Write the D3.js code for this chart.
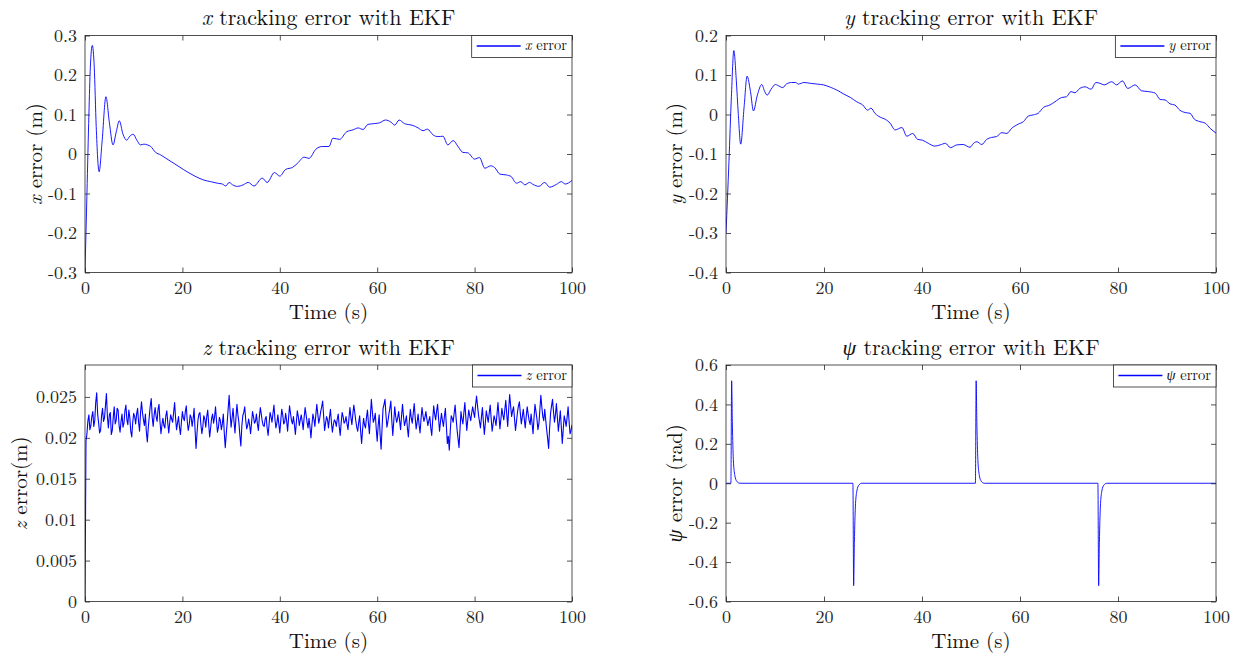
<!DOCTYPE html>
<html>
<head>
<meta charset="utf-8">
<script src="https://cdn.jsdelivr.net/npm/d3@7"></script>
<style>
  body { margin: 0; background: #fff; }
  svg { display: block; }
  svg text { font-family: 'Latin Modern Roman', 'Liberation Serif', serif; }
</style>
</head>
<body>
<svg id="chart" width="1240" height="655"></svg>
<script>
// ---- data ----
const xTicks = [0, 20, 40, 60, 80, 100];

const xErrTicks = [-0.3, -0.2, -0.1, 0, 0.1, 0.2, 0.3];
const xErrTime = [0, 0.4, 0.8, 1.1, 1.5, 1.9, 2.3, 2.9, 3.5, 4.3, 5.0, 5.75, 6.4, 7.05, 7.8, 8.55, 9.2, 9.9,
  10.6, 11.4, 12.1, 12.8, 13.5, 14.5, 15.5, 16.5, 18.3, 20.3, 22.4, 24.4, 25.8, 27.2, 28.2, 28.9, 29.6,
  30.3, 31.3, 32.5, 33.5, 34.7, 36.4, 37.4, 38.9, 40.0, 41.2, 42.6, 43.6, 45.0, 46.0, 47.4, 48.7, 50.1,
  50.9, 52.3, 53.7, 55.0, 56.1, 57.1, 58.1, 59.5, 60.5, 61.7, 62.8, 63.6, 64.5, 65.6, 67.4, 68.4, 69.4,
  70.3, 71.5, 72.5, 73.5, 74.5, 75.6, 76.6, 77.6, 78.6, 80.0, 81.0, 82.1, 83.3, 84.1, 85.2, 86.5, 87.5,
  88.6, 89.5, 90.3, 91.3, 92.0, 93.2, 94.4, 95.4, 96.8, 97.8, 98.6, 100];
const xErr = [-0.3, -0.1, 0.1, 0.22, 0.275, 0.22, 0.07, -0.045, 0.03, 0.145, 0.08, 0.023, 0.055, 0.084, 0.05, 0.035, 0.045, 0.05,
  0.036, 0.023, 0.025, 0.023, 0.019, 0.004, -0.002, -0.01, -0.024, -0.04, -0.055, -0.066, -0.07, -0.074, -0.076, -0.081, -0.072,
  -0.078, -0.082, -0.078, -0.072, -0.081, -0.061, -0.072, -0.047, -0.056, -0.039, -0.034, -0.024, -0.008, -0.011, 0.012, 0.019, 0.019,
  0.04, 0.037, 0.056, 0.061, 0.066, 0.062, 0.075, 0.077, 0.079, 0.086, 0.081, 0.073, 0.086, 0.077, 0.072, 0.066, 0.059,
  0.063, 0.048, 0.044, 0.045, 0.023, 0.034, 0.019, 0.004, 0.003, -0.013, -0.009, -0.036, -0.03, -0.034, -0.051, -0.053, -0.057,
  -0.074, -0.07, -0.078, -0.072, -0.077, -0.082, -0.072, -0.084, -0.077, -0.07, -0.076, -0.067];

const yErrTicks = [-0.4, -0.3, -0.2, -0.1, 0, 0.1, 0.2];
const yErrTime = [0, 0.6, 1.1, 1.6, 2.1, 2.5, 3.0, 3.7, 4.3, 5.0, 5.6, 6.4, 7.3, 7.9, 8.4, 9.2, 10.1, 10.8,
  11.6, 12.3, 13.4, 14.2, 14.8, 15.9, 17.2, 18.6, 19.9, 21.3, 22.6, 24.0, 25.4, 26.7, 27.9, 28.9, 29.6,
  30.4, 31.5, 32.5, 33.5, 34.5, 35.9, 36.9, 38.1, 39.1, 40.1, 41.3, 42.6, 43.7, 44.8, 45.8, 47.1, 48.4,
  49.8, 50.5, 51.2, 52.2, 53.2, 54.2, 55.2, 56.3, 57.3, 58.3, 59.7, 60.7, 61.7, 62.7, 63.7, 64.8, 66.1,
  67.1, 68.5, 69.5, 70.4, 71.2, 72.2, 73.3, 74.5, 75.5, 76.3, 77.2, 78.7, 79.7, 80.9, 82.0, 83.5, 84.8,
  86.2, 87.6, 88.6, 89.6, 90.6, 91.6, 92.6, 93.7, 94.7, 95.6, 96.7, 97.8, 98.8, 100];
const yErr = [-0.3, -0.12, 0.045, 0.162, 0.087, 0.003, -0.075, 0.02, 0.097, 0.058, 0.009, 0.049, 0.076, 0.058, 0.049, 0.064, 0.076, 0.072,
  0.068, 0.077, 0.081, 0.081, 0.077, 0.081, 0.079, 0.077, 0.075, 0.069, 0.062, 0.052, 0.043, 0.032, 0.024, 0.011, 0.016,
  0.003, -0.007, -0.012, -0.022, -0.039, -0.033, -0.055, -0.048, -0.063, -0.065, -0.073, -0.08, -0.077, -0.073, -0.084, -0.077, -0.076,
  -0.083, -0.073, -0.069, -0.076, -0.063, -0.058, -0.056, -0.046, -0.048, -0.035, -0.024, -0.018, -0.004, -0.001, 0.003, 0.018, 0.024,
  0.032, 0.043, 0.045, 0.058, 0.055, 0.066, 0.07, 0.064, 0.081, 0.079, 0.075, 0.083, 0.075, 0.085, 0.066, 0.075, 0.06,
  0.058, 0.054, 0.038, 0.037, 0.027, 0.024, 0.011, 0.005, 0.003, -0.012, -0.018, -0.022, -0.035, -0.047];

const zErrTicks = [0, 0.005, 0.01, 0.015, 0.02, 0.025];
const zStep = 0.2; // sample spacing (s)
// z error in millimetres, one value every zStep seconds from t = 0
const zErrMm = [0,
  19.6, 20.5, 22.1, 22.8, 21.0, 21.5, 22.6, 23.2, 21.4, 22.1, 24.3, 25.5, 22.9, 21.8, 20.6, 20.9, 22.7, 23.6, 22.0, 22.4, 23.9, 25.4, 22.6, 21.2, 22.8,
  23.1, 20.4, 20.9, 22.5, 23.8, 21.7, 22.1, 23.6, 23.4, 21.5, 20.7, 22.0, 22.9, 21.3, 21.8, 23.3, 24.0, 22.2, 21.6, 23.4, 22.5, 20.8, 20.1, 21.9, 23.0,
  22.6, 21.7, 22.9, 23.6, 21.9, 20.8, 23.0, 24.4, 23.1, 22.2, 21.5, 22.9, 20.7, 19.5, 21.3, 22.6, 23.9, 24.8, 22.5, 21.4, 22.8, 23.7, 22.6, 22.0, 23.5,
  24.1, 22.0, 20.5, 21.6, 22.4, 21.5, 21.2, 22.7, 23.3, 21.8, 20.6, 21.9, 22.8, 22.3, 21.9, 23.1, 24.3, 22.4, 21.0, 21.8, 22.6, 21.3, 20.4, 21.9, 23.2,
  22.4, 22.1, 23.2, 23.9, 22.0, 20.9, 21.6, 22.8, 22.5, 21.4, 22.3, 23.6, 21.0, 18.7, 20.6, 22.2, 22.9, 23.1, 21.6, 20.5, 21.4, 22.7, 22.3, 21.3, 22.6,
  23.4, 21.7, 20.1, 21.2, 22.4, 22.9, 21.8, 22.5, 23.8, 22.1, 20.7, 21.3, 22.5, 22.1, 21.0, 21.7, 22.9, 20.6, 18.8, 20.4, 21.9, 23.6, 25.2, 23.0, 21.3,
  22.4, 23.6, 22.0, 20.6, 22.5, 24.1, 22.8, 21.9, 20.3, 19.0, 21.4, 22.7, 23.1, 23.8, 22.2, 21.1, 21.5, 22.3, 21.6, 20.5, 21.8, 23.2, 22.6, 21.8, 22.0,
  22.9, 21.7, 20.9, 22.5, 23.7, 22.9, 22.0, 21.5, 21.4, 22.3, 22.6, 21.2, 20.3, 21.7, 23.1, 22.6, 21.9, 23.0, 24.0, 22.3, 21.2, 21.8, 22.8, 21.7, 20.6,
  22.1, 23.5, 22.8, 21.7, 21.9, 23.0, 22.1, 20.8, 22.4, 23.9, 23.0, 22.1, 21.7, 22.6, 21.6, 20.4, 21.9, 23.3, 22.6, 21.5, 22.2, 22.8, 22.0, 21.0, 22.5,
  23.7, 22.8, 21.9, 21.2, 22.4, 21.3, 20.0, 21.6, 22.9, 22.3, 21.4, 22.8, 24.1, 22.9, 21.8, 22.4, 23.2, 23.8, 24.5, 22.7, 20.9, 21.8, 22.6, 22.2, 21.2,
  22.5, 23.5, 21.9, 20.7, 21.6, 22.2, 22.0, 21.4, 22.3, 22.9, 21.4, 20.3, 21.8, 23.1, 22.6, 21.8, 22.0, 22.6, 21.7, 21.0, 22.4, 23.7, 22.5, 21.6, 22.9,
  24.0, 23.1, 22.1, 21.3, 20.8, 21.9, 22.7, 20.8, 19.3, 21.0, 22.4, 21.6, 21.2, 22.5, 23.4, 21.8, 20.5, 22.6, 24.7, 23.2, 21.9, 22.3, 23.0, 21.1, 19.6,
  21.5, 22.8, 20.4, 18.6, 21.2, 23.6, 24.1, 24.7, 22.8, 21.3, 22.0, 22.9, 23.6, 24.5, 22.1, 20.3, 22.0, 23.8, 22.6, 21.9, 22.4, 23.2, 22.1, 21.0, 22.7,
  24.1, 22.6, 21.5, 22.0, 22.7, 21.2, 20.1, 22.0, 23.5, 22.4, 21.8, 23.0, 24.2, 22.5, 21.1, 21.9, 22.9, 21.6, 20.6, 22.3, 23.7, 22.7, 22.0, 22.5, 23.2,
  22.3, 21.5, 22.1, 22.6, 21.2, 20.3, 22.2, 23.9, 22.9, 22.2, 23.3, 24.1, 22.4, 20.8, 22.0, 23.0, 22.1, 21.4, 22.6, 23.6, 21.5, 19.3, 20.2, 18.5, 20.8,
  22.7, 22.4, 21.9, 23.0, 24.0, 22.4, 21.0, 19.9, 18.8, 21.0, 23.2, 22.3, 21.7, 23.1, 24.3, 22.5, 20.9, 22.2, 23.4, 22.7, 22.1, 23.0, 23.8, 23.1, 22.5,
  24.0, 25.1, 23.9, 22.8, 22.0, 21.2, 22.5, 23.7, 22.0, 20.4, 21.8, 23.3, 22.6, 21.9, 23.0, 24.0, 22.4, 20.8, 21.7, 22.7, 22.2, 21.5, 22.9, 24.3, 22.7,
  21.1, 22.3, 23.6, 22.8, 22.2, 23.4, 24.6, 22.9, 21.4, 23.5, 25.3, 23.9, 22.6, 23.3, 23.8, 22.3, 20.9, 22.0, 23.1, 23.9, 24.4, 22.9, 21.7, 22.6, 23.5,
  22.3, 21.2, 22.6, 23.8, 22.9, 22.1, 21.6, 22.9, 21.8, 20.5, 22.4, 24.1, 23.2, 22.3, 21.0, 21.7, 23.4, 25.2, 23.8, 22.6, 22.1, 23.5, 22.2, 21.0, 19.9,
  18.7, 21.1, 23.0, 23.9, 24.7, 23.2, 21.9, 22.8, 24.2, 22.5, 20.8, 22.0, 23.3, 21.4, 19.3, 21.0, 22.7, 22.1, 21.4, 22.5, 23.8, 22.0, 20.5, 20.9, 21.6];

const psiTicks = [-0.6, -0.4, -0.2, 0, 0.2, 0.4, 0.6];
const psiTime = [0, 1.0, 1.15, 1.3, 1.5, 1.8, 2.2, 2.8,
  25.9, 26.05, 26.2, 26.4, 26.7, 27.1, 27.7,
  50.9, 51.05, 51.2, 51.4, 51.7, 52.1, 52.7,
  75.9, 76.05, 76.2, 76.4, 76.7, 77.1, 77.7, 100];
const psiErr = [0, 0, 0.52, 0.3, 0.12, 0.04, 0.01, 0,
  0, -0.52, -0.3, -0.12, -0.04, -0.01, 0,
  0, 0.52, 0.3, 0.12, 0.04, 0.01, 0,
  0, -0.52, -0.3, -0.12, -0.04, -0.01, 0, 0];

// ---- layout ----
const axisColor = '#262626';
const lineColor = '#0000ff';
const serif = "'Latin Modern Roman', 'Liberation Serif', serif";
const cols = [{ left: 85, right: 572 }, { left: 726, right: 1216 }];
const rows = [{ top: 35.5, bottom: 272.5 }, { top: 365, bottom: 601.5 }];

const panels = [
  { col: 0, row: 0, sym: 'x', domain: [-0.3, 0.3], ticks: xErrTicks, unit: ' (m)', labelX: 35, lw: 0.9,
    pts: xErrTime.map((t, i) => [t, xErr[i]]), curve: d3.curveMonotoneX },
  { col: 1, row: 0, sym: 'y', domain: [-0.4, 0.2], ticks: yErrTicks, unit: ' (m)', labelX: 675, lw: 0.9,
    pts: yErrTime.map((t, i) => [t, yErr[i]]), curve: d3.curveMonotoneX },
  { col: 0, row: 1, sym: 'z', domain: [0, 0.0289], ticks: zErrTicks, unit: '(m)', labelX: 20, lw: 1.1,
    pts: zErrMm.map((v, i) => [i * zStep, v / 1000]), curve: d3.curveLinear },
  { col: 1, row: 1, sym: 'ψ', domain: [-0.6, 0.6], ticks: psiTicks, unit: ' (rad)', labelX: 675, lw: 0.9,
    pts: psiTime.map((t, i) => [t, psiErr[i]]), curve: d3.curveMonotoneX },
];

const svg = d3.select('#chart');
const fmt = (d) => String(Math.round(d * 10000) / 10000);

panels.forEach((p) => {
  const c = cols[p.col], r = rows[p.row];
  const x = d3.scaleLinear().domain([0, 100]).range([c.left, c.right]);
  const y = d3.scaleLinear().domain(p.domain).range([r.bottom, r.top]);
  const g = svg.append('g');

  // clip for the data line
  const clipId = 'clip' + p.col + p.row;
  svg.append('clipPath').attr('id', clipId)
    .append('rect')
    .attr('x', c.left).attr('y', r.top)
    .attr('width', c.right - c.left).attr('height', r.bottom - r.top);

  // data line
  g.append('path')
    .datum(p.pts)
    .attr('clip-path', `url(#${clipId})`)
    .attr('fill', 'none')
    .attr('stroke', lineColor)
    .attr('stroke-width', p.lw)
    .attr('stroke-linejoin', 'round')
    .attr('d', d3.line().x((d) => x(d[0])).y((d) => y(d[1])).curve(p.curve));

  // axes (MATLAB style: inward ticks on all four sides)
  const styleAxis = (sel) => {
    sel.attr('font-family', serif).attr('font-size', 18);
    sel.select('.domain').remove();
    sel.selectAll('line').attr('stroke', axisColor).attr('stroke-width', 0.8);
    sel.selectAll('text').attr('fill', axisColor);
  };
  g.append('g').attr('transform', `translate(0,${r.bottom})`)
    .call(d3.axisBottom(x).tickValues(xTicks).tickSize(-5).tickPadding(9).tickFormat(fmt))
    .call(styleAxis);
  g.append('g').attr('transform', `translate(0,${r.top})`)
    .call(d3.axisTop(x).tickValues(xTicks).tickSize(-5).tickFormat(''))
    .call(styleAxis);
  g.append('g').attr('transform', `translate(${c.left},0)`)
    .call(d3.axisLeft(y).tickValues(p.ticks).tickSize(-5).tickPadding(8).tickFormat(fmt))
    .call(styleAxis);
  g.append('g').attr('transform', `translate(${c.right},0)`)
    .call(d3.axisRight(y).tickValues(p.ticks).tickSize(-5).tickFormat(''))
    .call(styleAxis);

  // box
  g.append('rect')
    .attr('x', c.left).attr('y', r.top)
    .attr('width', c.right - c.left).attr('height', r.bottom - r.top)
    .attr('fill', 'none').attr('stroke', axisColor).attr('stroke-width', 0.8);

  // title
  const title = g.append('text')
    .attr('x', (c.left + c.right) / 2).attr('y', r.top - 10.5)
    .attr('text-anchor', 'middle').attr('fill', '#111')
    .style('font-size', '22px');
  title.append('tspan').style('font-style', 'italic').text(p.sym);
  title.append('tspan').text(' tracking error with EKF');

  // x label
  g.append('text')
    .attr('x', (c.left + c.right) / 2).attr('y', r.bottom + 46)
    .attr('text-anchor', 'middle').attr('fill', '#111')
    .style('font-size', '21px')
    .text('Time (s)');

  // y label
  const yl = g.append('text')
    .attr('transform', `translate(${p.labelX},${(r.top + r.bottom) / 2}) rotate(-90)`)
    .attr('text-anchor', 'middle').attr('dy', '0.35em').attr('fill', '#111')
    .style('font-size', '21px');
  yl.append('tspan').style('font-style', 'italic').text(p.sym);
  yl.append('tspan').text(' error' + p.unit);

  // legend
  const leg = g.append('g');
  const lt = leg.append('text')
    .attr('y', r.top + 14.5).attr('fill', '#111')
    .style('font-size', '14.5px');
  lt.append('tspan').style('font-style', 'italic').text(p.sym);
  lt.append('tspan').text(' error');
  const tw = lt.node().getComputedTextLength();
  const lw = tw + 58;
  const lx = c.right - lw;
  lt.attr('x', lx + 53);
  leg.insert('rect', 'text')
    .attr('x', lx).attr('y', r.top)
    .attr('width', lw).attr('height', 22)
    .attr('fill', '#fff').attr('stroke', axisColor).attr('stroke-width', 0.8);
  leg.append('line')
    .attr('x1', lx + 5).attr('x2', lx + 49)
    .attr('y1', r.top + 10.5).attr('y2', r.top + 10.5)
    .attr('stroke', lineColor).attr('stroke-width', 1.4);
});
</script>
</body>
</html>
